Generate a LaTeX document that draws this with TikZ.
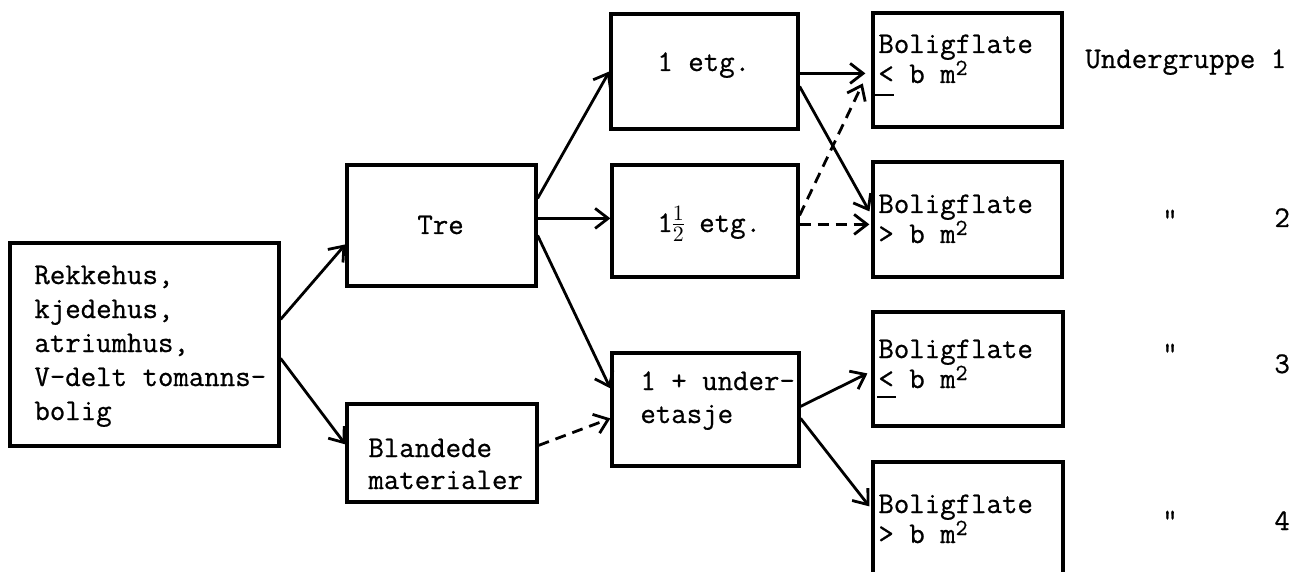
\documentclass[tikz,border=0pt]{standalone}
\usepackage{fontspec}
\usetikzlibrary{arrows.meta,calc}
% typewriter lettering used throughout; the optional argument is the line pitch
\newfontfamily\typefam{Latin Modern Mono}[FakeBold=0.7]
\newcommand\typew[1][17]{\fontsize{15}{#1}\selectfont\typefam}
% raised square sign
\newcommand\sqr{\raisebox{4pt}{\fontsize{11.5}{11.5}\selectfont 2}}
\begin{document}
\begin{tikzpicture}[x=0.5pt,y=-0.5pt,
  box/.style={draw, line width=1.6pt, rectangle, inner sep=0pt},
  txt/.style={anchor=base west, inner sep=0pt, font=\typew, align=left},
  link/.style={line width=1.4pt,
    -{Straight Barb[length=6.5pt,width=10pt,line width=1.4pt]}},
  dlink/.style={link, dash pattern=on 5.5pt off 3.5pt},
  stroke/.style={line width=1.1pt},
]
\useasboundingbox (0,0) rectangle (1291,572);
\clip (0,0) rectangle (1291,572);

% boxes
\node[box, minimum width=134.5pt, minimum height=101.5pt] (rek)   at (144.5,344.5) {};
\node[box, minimum width=94.5pt,  minimum height=60.5pt]  (tre)   at (441.5,225.5) {};
\node[box, minimum width=95pt,    minimum height=49pt]    (bland) at (442,453) {};
\node[box, minimum width=93.5pt,  minimum height=57.5pt]  (etgA)  at (704.5,71.5) {};
\node[box, minimum width=93pt,    minimum height=56pt]    (etgB)  at (705,221) {};
\node[box, minimum width=93.5pt,  minimum height=56.5pt]  (under) at (705.5,409.5) {};
\node[box, minimum width=94.5pt,  minimum height=57pt]    (bA)    at (967.5,70) {};
\node[box, minimum width=94.5pt,  minimum height=57.5pt]  (bB)    at (967.5,219.5) {};
\node[box, minimum width=95pt,    minimum height=57pt]    (bC)    at (968,369) {};
\node[box, minimum width=95pt,    minimum height=70pt]    (bD)    at (968,532) {};

% box texts (multi-line nodes sit on the baseline of their last line)
\node[txt] (rekT) at (34,420) {Rekkehus,\\kjedehus,\\atriumhus,\\V-delt tomanns-\\bolig};
\node[txt] (treT) at (417,234) {Tre};
\node[txt, font={\typew[16]}] (blandT) at (368,489) {Blandede\\materialer};
\node[txt] (etgAT) at (657,71) {1 etg.};
\node[txt] (etgBT) at (657,232) {1{\nulldelimiterspace=0pt$\frac{1}{2}$} etg.};
\node[txt, font={\typew[16.5]}] (underT) at (640,423) {1 + under-\\etasje};
\node[txt, font={\typew[15]}] (bAT) at (878,83)  {Boligflate\\< b m\sqr};
\node[txt, font={\typew[15]}] (bBT) at (878,243) {Boligflate\\> b m\sqr};
\node[txt, font={\typew[15]}] (bCT) at (878,388) {Boligflate\\< b m\sqr};
\node[txt, font={\typew[15]}] (bDT) at (878,543) {Boligflate\\> b m\sqr};

% hand strokes under the "<" signs
\draw[stroke] (875,95) -- (894,95);
\draw[stroke] (877,397) -- (896,397);

% group labels
\node[txt] (grA) at (1085,68) {Undergruppe 1};
\node[inner sep=0pt, font=\typew] (dB) at (1170,219) {"};
\node[inner sep=0pt, font=\typew] (dC) at (1170,353) {"};
\node[inner sep=0pt, font=\typew] (dD) at (1170,520) {"};
\node[txt] (nB) at (1274,227) {2};
\node[txt] (nC) at (1274,373) {3};
\node[txt] (nD) at (1274,530) {4};

% connectors
\draw[link]  ($(rek.north east)+(0,78)$)  -- ($(tre.north west)+(0,81)$);
\draw[link]  ($(rek.north east)+(0,117)$) -- ($(bland.north west)+(0,42)$);
\draw[link]  ($(tre.north east)+(0,35)$)  -- ($(etgA.north west)+(0,59)$);
\draw[link]  ($(tre.north east)+(0,55)$)  -- ($(etgB.north west)+(0,55)$);
\draw[link]  ($(tre.north east)+(0,72)$)  -- ($(under.north west)+(0,37)$);
\draw[dlink] ($(bland.north east)+(0,43)$) -- ($(under.north west)+(0,67)$);
\draw[link]  ($(etgA.north east)+(0,61)$) -- ($(bA.north west)+(-6,62)$);
\draw[link]  ($(etgA.north east)+(0,74)$) -- ($(bB.north west)+(-2,51)$);
\draw[dlink, shorten >=10pt] ($(etgB.north east)+(0,52)$) -- ($(bA.north west)+(0,54)$);
\draw[dlink] ($(etgB.north east)+(0,61)$) -- ($(bB.north west)+(-2,64)$);
\draw[link]  ($(under.north east)+(0,55)$) -- ($(bC.north west)+(-4,63)$);
\draw[link]  ($(under.north east)+(0,67)$) -- ($(bD.north west)+(-2,46)$);
\end{tikzpicture}
\end{document}
